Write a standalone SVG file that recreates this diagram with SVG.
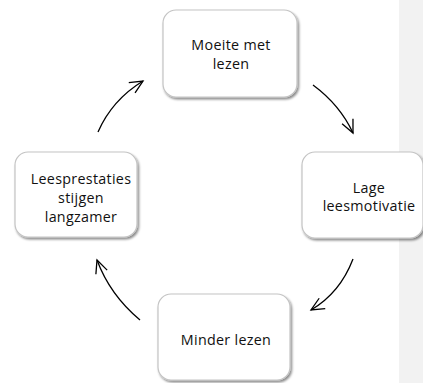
<svg xmlns="http://www.w3.org/2000/svg" width="423" height="383" viewBox="0 0 423 383">
<defs>
<filter id="sh" x="-10%" y="-10%" width="125%" height="130%">
<feDropShadow dx="1.5" dy="2" stdDeviation="1.2" flood-color="#000" flood-opacity="0.45"/>
</filter>
<marker id="ah" markerWidth="16" markerHeight="16" refX="14" refY="7" orient="auto" markerUnits="userSpaceOnUse">
<path d="M1,1 L14,7 L1,13" fill="none" stroke="#000" stroke-width="1.3"/>
</marker>
<style>
.box{fill:#fff;stroke:#c4c4c4;stroke-width:1.2;filter:url(#sh)}
.t{font-family:"Open Sans","Liberation Sans",sans-serif;font-size:14.3px;letter-spacing:0.3px;fill:#111;text-anchor:middle}
.c{fill:none;stroke:#000;stroke-width:1.3;marker-end:url(#ah)}
</style>
</defs>
<rect x="399" y="0" width="24" height="383" fill="#f2f2f2"/>
<g id="n1"><rect class="box" x="163" y="10" width="134" height="87" rx="13"/>
<text class="t" x="231" y="50">Moeite met</text><text class="t" x="231" y="69">lezen</text></g>
<g id="n2"><rect class="box" x="302" y="152" width="121" height="86" rx="13"/>
<text class="t" x="369" y="193">Lage</text><text class="t" x="369" y="211">leesmotivatie</text></g>
<g id="n3"><rect class="box" x="158" y="294" width="132" height="86" rx="13"/>
<text class="t" x="226" y="345">Minder lezen</text></g>
<g id="n4"><rect class="box" x="15" y="152" width="122" height="85" rx="13"/>
<text class="t" x="81" y="184">Leesprestaties</text><text class="t" x="81" y="203">stijgen</text><text class="t" x="81" y="222">langzamer</text></g>
<g id="connectors">
<path class="c" d="M98,132 Q112,100 143,81"/>
<path class="c" d="M313,85 Q340,105 353,133"/>
<path class="c" d="M353,259 Q340,293 311,310"/>
<path class="c" d="M140,320 Q110,295 97,260"/>
</g>
</svg>
